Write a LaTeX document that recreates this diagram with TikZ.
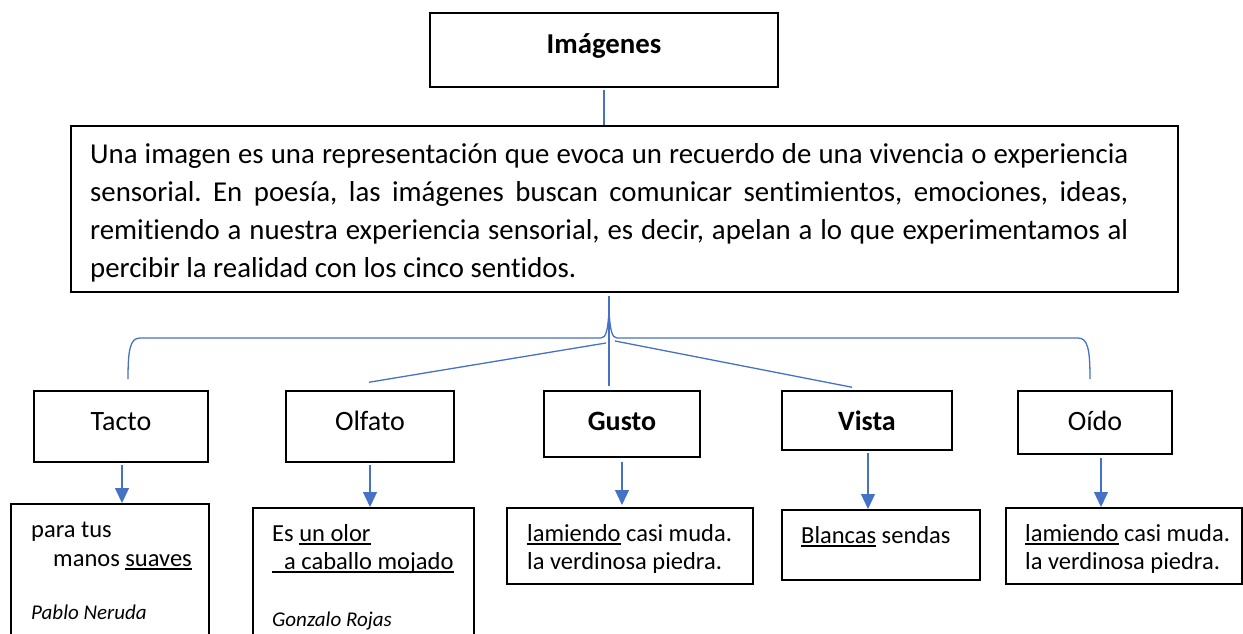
\documentclass[tikz,border=0pt]{standalone}
\usepackage{fontspec}
\setmainfont{Carlito}[Ligatures={NoCommon}]
\usetikzlibrary{arrows.meta,calc}
\definecolor{linkblue}{HTML}{4472C4}
\frenchspacing
\newcommand{\ulx}[1]{\setbox0=\hbox{#1}\rlap{\rule[-4pt]{\wd0}{1.6pt}}\box0\relax}
\begin{document}
\begin{tikzpicture}[x=1pt,y=-1pt,
  box/.style={draw=black, line width=1.5pt, inner sep=0pt},
  lab/.style={box, anchor=base, text height=39pt, font=\fontsize{28}{34}\selectfont},
  link/.style={draw=linkblue, line width=1.3pt},
  arr/.style={link, -{Triangle[width=14pt,length=15pt]}},
  ex/.style={anchor=base west, inner sep=0pt, font=\fontsize{24.5}{28.5}\selectfont},
  auth/.style={anchor=base west, inner sep=0pt, font=\fontsize{21}{25}\selectfont\itshape}]
\useasboundingbox (0,0) rectangle (1243,634);
\clip (0,0) rectangle (1243,634);

% title
\node[box, anchor=base, text height=41pt, text depth=33pt, minimum width=348pt,
      font=\fontsize{28.8}{34}\selectfont\bfseries] (imagenes) at (604,54) {Imágenes};

% definition box
\node[box, anchor=north west, minimum width=1107pt, minimum height=166pt] (def) at (70,125) {};
\node[anchor=base west, inner sep=0pt, font=\fontsize{28.8}{38}\selectfont] (defText) at (90,163)
 {\vtop{\hsize=1038pt\baselineskip=38pt
  \hbox to\hsize{Una imagen es una representación que evoca un recuerdo de una vivencia o experiencia}
  \hbox to\hsize{sensorial. En poesía, las imágenes buscan comunicar sentimientos, emociones, ideas,}
  \hbox to\hsize{remitiendo a nuestra experiencia sensorial, es decir, apelan a lo que experimentamos al}
  \hbox{percibir la realidad con los cinco sentidos.}}};

\draw[link, shorten <=2pt] (imagenes.south) -- (imagenes.south |- def.north);

% sense boxes
\node[lab, text depth=32pt, minimum width=174pt] (tacto) at (121,430) {Tacto};
\node[lab, text depth=32pt, minimum width=168pt] (olfato) at (370,430) {Olfato};
\node[lab, text depth=27pt, minimum width=156pt, font=\fontsize{28}{34}\selectfont\bfseries] (gusto) at (622,430) {Gusto};
\node[lab, text depth=20pt, minimum width=170pt, font=\fontsize{28}{34}\selectfont\bfseries] (vista) at (867,430) {Vista};
\node[lab, text depth=24pt, minimum width=154pt] (oido) at (1095,430) {Oído};

% brace
\coordinate (hub) at (609,296);
\coordinate (braceTip) at (609,310);
\coordinate (braceL) at (128,379);
\coordinate (braceR) at (1090,379);
\coordinate (hubL) at (606,343);
\coordinate (hubR) at (615,341);
\draw[link, shorten >=4pt] (hub) -- (hub |- gusto.north);
\draw[link] (braceL) .. controls (128,350) and (130,338) .. (140,338) -- (601,338)
  .. controls (606,338) and (608,330) .. (braceTip)
  .. controls (610,330) and (612,338) .. (617,338) -- (1078,338)
  .. controls (1088,338) and (1090,350) .. (braceR);
\draw[link] (hubL) -- ($(olfato.north)+(-1,-8)$);
\draw[link] (hubR) -- ($(vista.north)+(-15,-3)$);

% example boxes
\node[box, anchor=north west, minimum width=198pt, minimum height=160pt] (tactoEx) at (10,503) {};
\node[box, anchor=north west, minimum width=221pt, minimum height=160pt] (olfatoEx) at (252,507) {};
\node[box, anchor=north west, minimum width=246pt, minimum height=76pt] (gustoEx) at (506,507) {};
\node[box, anchor=north west, minimum width=198pt, minimum height=70pt] (vistaEx) at (781,509) {};
\node[box, anchor=north west, minimum width=236pt, minimum height=76pt] (oidoEx) at (1005,507) {};

% arrows
\draw[arr] ($(tacto.south)+(1,2)$) -- ($(tacto.south |- tactoEx.north)+(1,0)$);
\draw[arr] ($(olfato.south)+(0,2)$) -- (olfato.south |- olfatoEx.north);
\draw[arr] ($(gusto.south)+(0,4)$) -- ($(gusto.south |- gustoEx.north)+(0,-2)$);
\draw[arr] ($(vista.south)+(1,2)$) -- ($(vista.south |- vistaEx.north)+(1,0)$);
\draw[arr] ($(oido.south)+(6,3)$) -- ($(oido.south |- oidoEx.north)+(6,0)$);

% example texts
\node[ex] (tactoTxt) at (31,537) {\vtop{\baselineskip=29pt\hbox{para tus}\hbox{\hspace*{22pt}manos \ulx{suaves}}}};
\node[auth] (tactoAut) at (31,619) {Pablo Neruda};
\node[ex] (olfatoTxt) at (272,541) {\vtop{\baselineskip=28pt\hbox{Es \ulx{un olor}}\hbox{\ulx{\hspace*{12pt}a caballo mojado}}}};
\node[auth] (olfatoAut) at (272,626) {Gonzalo Rojas};
\node[ex] (gustoTxt) at (527,541) {\vtop{\baselineskip=28pt\hbox{\ulx{lamiendo} casi muda.}\hbox{la verdinosa piedra.}}};
\node[ex] (vistaTxt) at (801,543) {\ulx{Blancas} sendas};
\node[ex] (oidoTxt) at (1025,541) {\vtop{\baselineskip=28pt\hbox{\ulx{lamiendo} casi muda.}\hbox{la verdinosa piedra.}}};
\end{tikzpicture}
\end{document}
